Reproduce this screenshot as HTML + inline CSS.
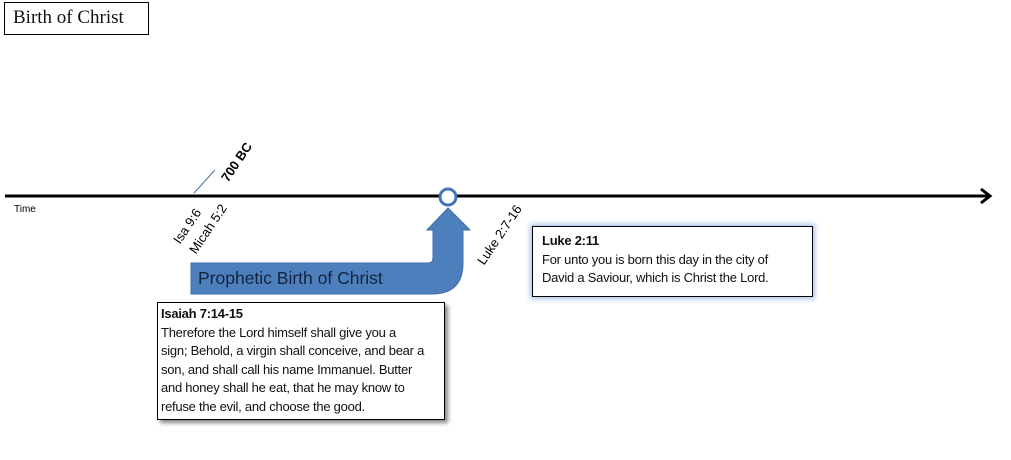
<!DOCTYPE html>
<html><head><meta charset="utf-8"><style>
body{margin:0;width:1011px;height:460px;background:#fff;position:relative;overflow:hidden;font-family:"Liberation Sans",sans-serif}
.t{position:absolute;white-space:nowrap}
.box{position:absolute;border:1.5px solid #000;background:#fff;font-size:13px;line-height:18.5px;padding:3px 3px;box-sizing:border-box;letter-spacing:-0.25px;color:#111}
</style></head><body>
<div class="box" style="left:4px;top:2px;width:145px;height:33px;font-family:'Liberation Serif',serif;font-size:19px;line-height:26px;padding:2px 8px;letter-spacing:0;border-width:1px">Birth of Christ</div>
<svg width="1011" height="460" style="position:absolute;left:0;top:0">
<line x1="5" y1="196" x2="990" y2="196" stroke="#000" stroke-width="3"/>
<polyline points="981,189 990,196 981,203" fill="none" stroke="#000" stroke-width="3"/>
<line x1="194" y1="193" x2="215" y2="170" stroke="#4a6fa5" stroke-width="1"/>
<path d="M191,263 L428,263 Q433,263 433,258 L433,230 L427,230 L448,208 L470,230 L463,230 L463,263 Q463,294 432,294 L191,294 Z" fill="#4e7fbd" stroke="#3f6ea8" stroke-width="1"/>
<circle cx="448" cy="197" r="8" fill="#fff" stroke="#3f76b8" stroke-width="3"/>
</svg>
<div class="t" style="left:14px;top:204px;font-size:10px">Time</div>
<div class="t" style="font-size:13px;font-weight:bold;transform:rotate(-56deg);transform-origin:0 0;top:176px;left:218px">700 BC</div>
<div class="t" style="left:170px;top:238px;font-size:13px;transform:rotate(-56deg);transform-origin:0 0">Isa 9:6</div>
<div class="t" style="left:186px;top:248px;font-size:13px;transform:rotate(-56deg);transform-origin:0 0">Micah 5:2</div>
<div class="t" style="left:474px;top:259px;font-size:13px;transform:rotate(-56deg);transform-origin:0 0">Luke 2:7-16</div>
<div class="t" style="left:198px;top:268px;font-size:17.5px;color:#12243f">Prophetic Birth of Christ</div>
<div class="box" style="left:532px;top:226px;width:281px;height:71px;box-shadow:0 0 5px 2px #a8c4ea;padding-top:5px;padding-left:9px"><b>Luke 2:11</b><br>For unto you is born this day in the city of<br>David a Saviour, which is Christ the Lord.</div>
<div class="box" style="left:157px;top:302px;width:288px;height:118px;box-shadow:3px 3px 4px #888;padding-top:2px"><b>Isaiah 7:14-15</b><br>Therefore the Lord himself shall give you a<br>sign; Behold, a virgin shall conceive, and bear a<br>son, and shall call his name Immanuel. Butter<br>and honey shall he eat, that he may know to<br>refuse the evil, and choose the good.</div>
</body></html>
